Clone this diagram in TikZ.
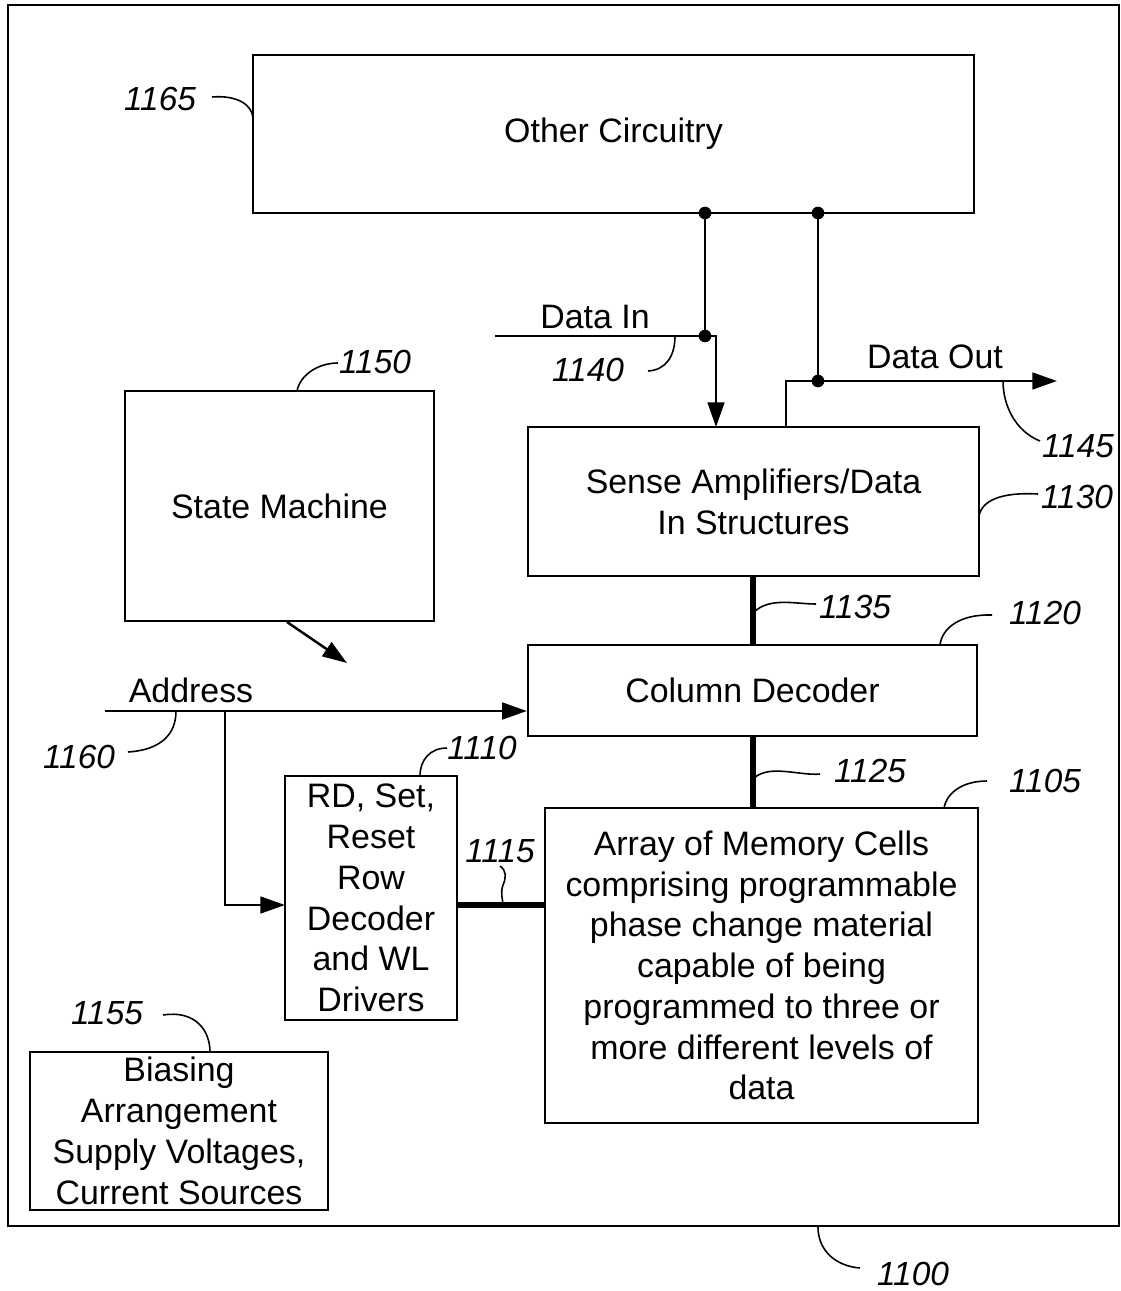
\documentclass[tikz,border=0pt]{standalone}
\usepackage{fontspec}
\setmainfont{Liberation Sans}
\usetikzlibrary{arrows.meta}
\tikzset{
  txt/.style={font=\fontsize{19.3}{23}\selectfont, align=center},
  box/.style={draw, line width=1.4pt, inner sep=0pt, align=center, font=\fontsize{19.3}{23.2}\selectfont},
  refnum/.style={font=\fontsize{19}{23}\selectfont\itshape, inner sep=0pt},
  wire/.style={line width=1.4pt},
  bus/.style={line width=2.9pt},
  leader/.style={line width=0.9pt},
  tip/.style={-{Triangle[length=14pt,width=9.5pt]}},
}
\begin{document}
\begin{tikzpicture}[x=0.02cm, y=-0.02cm]
\useasboundingbox (0,0) rectangle (1121,1291);

% outer device boundary
\coordinate (fr1) at (8,5);
\coordinate (fr2) at (1119,1226);
\draw[wire] (fr1) rectangle (fr2);

% functional blocks
\node[box, minimum width=14.42cm, minimum height=3.16cm] (oc) at (613.5,134) {Other Circuitry};
\node[box, minimum width=6.18cm, minimum height=4.6cm] (sm) at (279.5,506) {State Machine};
\node[box, minimum width=9.02cm, minimum height=2.98cm] (sa) at (753.5,501.5) {Sense Amplifiers/Data\\In Structures};
\node[box, minimum width=8.98cm, minimum height=1.82cm] (cd) at (752.5,690.5) {Column Decoder};
\node[box, minimum width=3.44cm, minimum height=4.88cm] (rd) at (371,898) {RD, Set,\\Reset\\Row\\Decoder\\and WL\\Drivers};
\node[box, minimum width=8.66cm, minimum height=6.3cm] (ar) at (761.5,965.5) {Array of Memory Cells\\comprising programmable\\phase change material\\capable of being\\programmed to three or\\more different levels of\\data};
\node[box, minimum width=5.96cm, minimum height=3.16cm] (bi) at (179,1131) {Biasing\\Arrangement\\Supply Voltages,\\Current Sources};

% junctions and signal end points
\coordinate (j1) at (705,213);
\coordinate (j2) at (818,213);
\coordinate (din) at (705,336);
\coordinate (dout) at (818,381);
\coordinate (dinStart) at (495,336);
\coordinate (dinTap) at (716,427);
\coordinate (doutTap) at (786,427);
\coordinate (doutEnd) at (1057,381);
\coordinate (addrStart) at (105,711);
\coordinate (addrTap) at (225,711);
\coordinate (rdIn) at (285,905);
\coordinate (smOut) at (287,622);
\coordinate (smTip) at (347,663);
\coordinate (busx) at (753,0);

% data paths
\draw[wire] (j1) -- (din);
\draw[wire] (j2) -- (dout);
\draw[wire, tip] (dinStart) -| (dinTap);
\draw[wire, tip] (doutTap) |- (doutEnd);
\foreach \p in {j1,j2,din,dout} \fill (\p) circle (3.6pt);
\node[txt] (dinLbl) at (595,317) {Data In};
\node[txt] (doutLbl) at (935,357) {Data Out};

% address paths
\draw[wire, tip] (addrStart) -- (addrStart -| cd.west);
\draw[wire, tip] (addrTap) |- (rdIn);
\node[txt] (addrLbl) at (191,690) {Address};

% state machine control
\draw[wire, tip] (smOut) -- (smTip);

% buses
\draw[bus] (sa.south -| busx) -- (cd.north -| busx);
\draw[bus] (cd.south -| busx) -- (ar.north -| busx);
\draw[bus] (rd.east |- rdIn) -- (ar.west |- rdIn);

% reference numerals
\node[refnum] (n1165) at (160,99) {1165};
\draw[leader] (212,97) .. controls (236,95) and (252,104) .. (253,118);
\node[refnum] (n1150) at (375,362) {1150};
\draw[leader] (338,363) .. controls (318,363) and (300,375) .. (297,391);
\node[refnum] (n1140) at (588,370) {1140};
\draw[leader] (648,371) .. controls (666,370) and (675,356) .. (675,336);
\node[refnum] (n1145) at (1078,446) {1145};
\draw[leader] (1040,441) .. controls (1015,431) and (1003,405) .. (1003,381);
\node[refnum] (n1130) at (1077,497) {1130};
\draw[leader] (1038,494) .. controls (1002,492) and (982,500) .. (979,516);
\node[refnum] (n1135) at (855,607) {1135};
\draw[leader] (816,604) .. controls (795,604) and (770,597) .. (754,612);
\node[refnum] (n1120) at (1045,613) {1120};
\draw[leader] (992,615) .. controls (960,614) and (942,628) .. (940,645);
\node[refnum] (n1125) at (870,771) {1125};
\draw[leader] (820,774) .. controls (800,776) and (770,764) .. (754,778);
\node[refnum] (n1105) at (1045,781) {1105};
\draw[leader] (987,781) .. controls (960,781) and (946,795) .. (944,808);
\node[refnum] (n1110) at (482,748) {1110};
\draw[leader] (447,748) .. controls (430,748) and (420,760) .. (420,776);
\node[refnum] (n1115) at (500,851) {1115};
\draw[leader] (500,866) .. controls (507,871) and (506,878) .. (503,885) .. controls (500,893) and (503,900) .. (503,905);
\node[refnum] (n1160) at (79,757) {1160};
\draw[leader] (128,752) .. controls (160,750) and (176,735) .. (176,711);
\node[refnum] (n1155) at (107,1013) {1155};
\draw[leader] (163,1015) .. controls (195,1010) and (210,1030) .. (210,1052);
\node[refnum] (n1100) at (913,1274) {1100};
\draw[leader] (860,1268) .. controls (835,1266) and (818,1250) .. (818,1227);
\end{tikzpicture}
\end{document}
